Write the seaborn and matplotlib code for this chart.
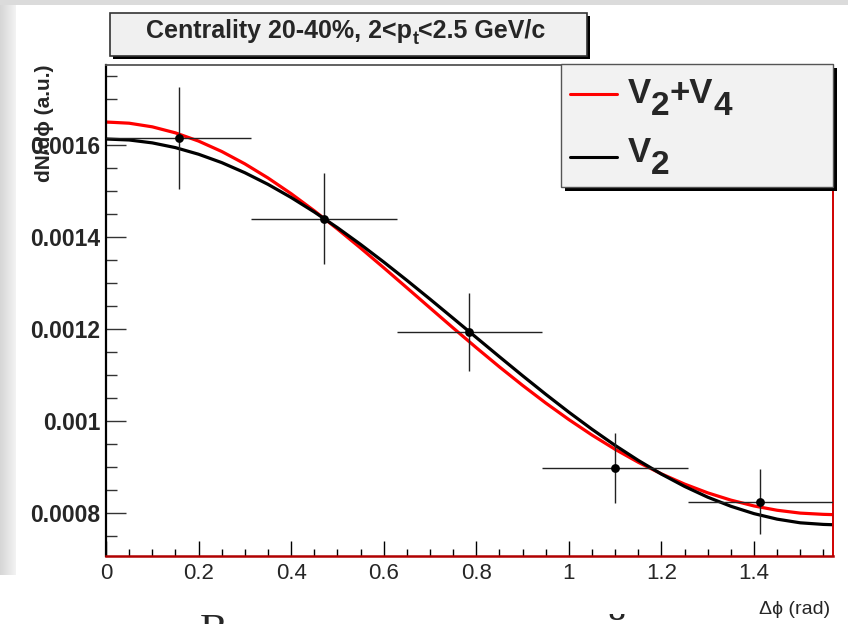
import numpy as np
import pandas as pd
import matplotlib
matplotlib.use("Agg")
import matplotlib.pyplot as plt
import seaborn as sns
from matplotlib import font_manager as fm
from matplotlib.patches import Rectangle
from matplotlib.lines import Line2D
from matplotlib.ticker import MultipleLocator

# ---------------- data ----------------
phi_pts = [0.157, 0.471, 0.785, 1.100, 1.414]
dn_pts = [0.001615, 0.001440, 0.001193, 0.000898, 0.000824]
xerr_pts = [0.157, 0.157, 0.157, 0.157, 0.157]
yerr_pts = [0.000111, 0.000098, 0.000084, 0.000076, 0.000071]

phi_curve = [0.0, 0.05, 0.1, 0.15, 0.2, 0.25, 0.3, 0.35, 0.4, 0.45, 0.5, 0.55, 0.6, 0.65,
             0.7, 0.75, 0.8, 0.85, 0.9, 0.95, 1.0, 1.05, 1.1, 1.15, 1.2, 1.25, 1.3, 1.35,
             1.4, 1.45, 1.5, 1.55, 1.5708]
fit_v2 = [0.0016130, 0.0016109, 0.0016046, 0.0015943, 0.0015799, 0.0015617, 0.0015397,
          0.0015144, 0.0014858, 0.0014543, 0.0014202, 0.0013838, 0.0013455, 0.0013057,
          0.0012648, 0.0012232, 0.0011813, 0.0011395, 0.0010982, 0.0010579, 0.0010189,
          0.0009817, 0.0009466, 0.0009140, 0.0008842, 0.0008574, 0.0008340, 0.0008142,
          0.0007982, 0.0007862, 0.0007782, 0.0007747, 0.0007740]
fit_v2v4 = [0.0016500, 0.0016474, 0.0016395, 0.0016264, 0.0016085, 0.0015859, 0.0015590,
            0.0015283, 0.0014941, 0.0014569, 0.0014173, 0.0013759, 0.0013331, 0.0012895,
            0.0012457, 0.0012021, 0.0011592, 0.0011174, 0.0010772, 0.0010389, 0.0010028,
            0.0009691, 0.0009381, 0.0009099, 0.0008847, 0.0008625, 0.0008434, 0.0008276,
            0.0008149, 0.0008055, 0.0007993, 0.0007966, 0.0007960]

xtick_vals = [0, 0.2, 0.4, 0.6, 0.8, 1.0, 1.2, 1.4]
xtick_labels = ["0", "0.2", "0.4", "0.6", "0.8", "1", "1.2", "1.4"]
ytick_vals = [0.0008, 0.0010, 0.0012, 0.0014, 0.0016]
ytick_labels = ["0.0008", "0.001", "0.0012", "0.0014", "0.0016"]

title_parts = [("Centrality 20-40%, 2<p", 0), ("t", 1), ("<2.5 GeV/c", 0)]
legend_red = [("V", 0), ("2", 1), ("+V", 0), ("4", 1)]
legend_black = [("V", 0), ("2", 1)]

# ---------------- style ----------------
sns.set_style("ticks")
names = {f.name for f in fm.fontManager.ttflist}
HAS_NARROW = "Liberation Sans Narrow" in names
NARROW = "Liberation Sans Narrow" if HAS_NARROW else "Liberation Sans"
plt.rcParams["font.family"] = ["Liberation Sans", "DejaVu Sans"]

W, H = 848, 624
fig = plt.figure(figsize=(W / 100, H / 100), dpi=100)
fig.patch.set_facecolor("white")


def fx(x):
    return x / W


def fy(y):
    return 1 - y / H


# slide background (grey strips)
bg = fig.add_axes([0, 0, 1, 1], zorder=-5)
bg.axis("off")
img = np.ones((H, W, 3))
for c in range(16):
    img[:575, c, :] = 0.84 + 0.11 * c / 15
img[:5, :, :] = 0.86
bg.imshow(img, aspect="auto", interpolation="nearest")
bg.set_xlim(-0.5, W - 0.5)
bg.set_ylim(H - 0.5, -0.5)

# ---------------- main axes ----------------
ax = fig.add_axes([fx(106), fy(556), 727 / W, 491 / H])
ax.set_facecolor("white")

df_curves = pd.DataFrame({"phi": phi_curve, "v2v4": fit_v2v4, "v2": fit_v2})
sns.lineplot(data=df_curves, x="phi", y="v2v4", color="#ff0000", linewidth=2.3,
             estimator=None, sort=False, ax=ax, zorder=2)
sns.lineplot(data=df_curves, x="phi", y="v2", color="black", linewidth=2.3,
             estimator=None, sort=False, ax=ax, zorder=2.5)

ax.errorbar(phi_pts, dn_pts, xerr=xerr_pts, yerr=yerr_pts, fmt="none",
            ecolor="#222222", elinewidth=1.0, capsize=0, zorder=3)
sns.scatterplot(x=phi_pts, y=dn_pts, color="black", s=40, edgecolor="black",
                linewidth=0, ax=ax, zorder=4)

ax.set_xlim(0, 1.5708)
ax.set_ylim(0.000706, 0.001774)

ax.set_xticks(xtick_vals)
ax.set_xticklabels(xtick_labels, family=NARROW, fontsize=18 if HAS_NARROW else 16)
ax.xaxis.set_minor_locator(MultipleLocator(0.05))
ax.set_yticks(ytick_vals)
ax.set_yticklabels(ytick_labels, fontweight="bold", fontsize=16.5)
ax.yaxis.set_minor_locator(MultipleLocator(0.00005))

ax.tick_params(axis="x", which="major", direction="in", length=11, width=1,
               color="black", pad=5, top=False)
ax.tick_params(axis="x", which="minor", direction="in", length=5, width=1,
               color="black", top=False)
ax.tick_params(axis="y", which="major", direction="in", length=14.5, width=1,
               color="#333333", pad=4, right=False)
ax.tick_params(axis="y", which="minor", direction="in", length=8, width=1,
               color="#333333", right=False)

for side, col, lw in [("left", "black", 1.6), ("bottom", "#b00000", 1.8),
                      ("right", "#d00000", 1.4), ("top", "#555555", 1.3)]:
    ax.spines[side].set_visible(True)
    ax.spines[side].set_color(col)
    ax.spines[side].set_linewidth(lw)

ax.set_ylabel("dN/dϕ (a.u.)", fontsize=15, fontweight="bold", rotation=90,
              ha="center", va="top", rotation_mode="default")
ax.yaxis.set_label_coords((45 - 106) / 727, 1.0)
ax.set_xlabel("Δϕ (rad)", fontsize=14, family=[NARROW, "DejaVu Sans"], ha="right", va="center")
ax.xaxis.set_label_coords((830 - 106) / 727, (556 - 610) / 491)

renderer = fig.canvas.get_renderer()


def draw_parts(parts, x0, ybase, size, subsize, subdrop, center=None, **kw):
    texts = []
    x = x0
    for s, is_sub in parts:
        fs = subsize if is_sub else size
        yb = ybase + (subdrop if is_sub else 0)
        t = fig.text(fx(x), fy(yb), s, fontsize=fs, va="baseline", ha="left", **kw)
        bb = t.get_window_extent(renderer)
        x = bb.x1
        texts.append(t)
    if center is not None:
        shift = center - (x0 + x) / 2
        for t in texts:
            px, py = t.get_position()
            t.set_position((px + shift / W, py))
    return texts


def box(x0, y0, x1, y1, shadow, face, edge, lw):
    fig.add_artist(Rectangle((fx(x0 + shadow), fy(y1 + shadow)), (x1 - x0) / W, (y1 - y0) / H,
                             transform=fig.transFigure, facecolor="black", edgecolor="none",
                             zorder=5))
    fig.add_artist(Rectangle((fx(x0), fy(y1)), (x1 - x0) / W, (y1 - y0) / H,
                             transform=fig.transFigure, facecolor=face, edgecolor=edge,
                             linewidth=lw, zorder=6))


# title box
box(110, 13, 587, 56, 3, "#f0f0f0", "#333333", 1.2)
draw_parts(title_parts, 128, 38, 18, 13, 6, center=346, fontweight="bold", zorder=7)

# legend box
box(561, 64, 833, 187, 4, "#f2f2f2", "#555555", 1.0)
fig.add_artist(Line2D([fx(570), fx(617)], [fy(94), fy(94)], transform=fig.transFigure,
                      color="#ff0000", linewidth=2.2, zorder=7))
fig.add_artist(Line2D([fx(570), fx(617)], [fy(157), fy(157)], transform=fig.transFigure,
                      color="black", linewidth=2.2, zorder=7))
draw_parts(legend_red, 628, 103, 25, 24, 12, fontweight="bold", zorder=7)
draw_parts(legend_black, 628, 162, 25, 24, 12, fontweight="bold", zorder=7)

# partially visible slide text at the bottom
fig.text(fx(200), fy(643), "В", fontsize=30, family="Liberation Serif", va="baseline", ha="left")
fig.text(fx(616), fy(643), "й", fontsize=30, family="Liberation Serif", va="baseline", ha="center")

fig.savefig("out.png", dpi=100)
